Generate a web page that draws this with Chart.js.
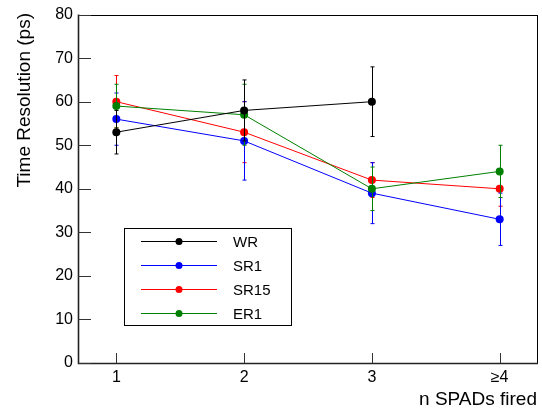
<!DOCTYPE html>
<html>
<head>
<meta charset="utf-8">
<script src="https://cdn.jsdelivr.net/npm/chart.js@4"></script>
<style>
html,body{margin:0;padding:0;background:#fff;}
canvas{display:block;}
</style>
</head>
<body>
<canvas id="c" width="542" height="409"></canvas>
<script>
// ---- data ----
const xValues = [1, 2, 3, 4];
const xTickLabels = ['1', '2', '3', '\u22654'];
const seriesNames = ['WR', 'SR1', 'SR15', 'ER1'];
const wrValues   = [53, 58, 60, null];
const wrErrors   = [5, 7, 8, null];
const sr1Values  = [56, 51, 39, 33];
const sr1Errors  = [6, 9, 7, 6];
const sr15Values = [60, 53, 42, 40];
const sr15Errors = [6, 7, 4, 4];
const er1Values  = [59, 57, 40, 44];
const er1Errors  = [5, 7, 5, 6];
const xTitle = 'n SPADs fired';
const yTitle = 'Time Resolution (ps)';

const colors = ['#000000', '#0000ff', '#ff0000', '#008000'];
const valuesList = [wrValues, sr1Values, sr15Values, er1Values];
const errorsList = [wrErrors, sr1Errors, sr15Errors, er1Errors];
const drawOrder = [0, 2, 3, 1];

const FONT = '"Liberation Sans", Arial, Helvetica, sans-serif';

const datasets = seriesNames.map((name, k) => ({
  label: name,
  data: xValues.map((x, i) => ({x: x, y: valuesList[k][i]})),
  errors: errorsList[k],
  borderColor: colors[k],
  backgroundColor: colors[k],
  pointBackgroundColor: colors[k],
  pointBorderColor: colors[k],
  borderWidth: 1,
  pointRadius: 4,
  pointHoverRadius: 4,
  pointBorderWidth: 0,
  tension: 0,
  spanGaps: false,
  order: drawOrder[k]
}));

const errorBarPlugin = {
  id: 'errorBars',
  beforeDatasetDraw(chart, args) {
    const ds = chart.data.datasets[args.index];
    const xs = chart.scales.x, ys = chart.scales.y;
    const ctx = chart.ctx;
    ctx.save();
    ctx.strokeStyle = ds.borderColor;
    ctx.lineWidth = 1;
    ds.data.forEach((p, i) => {
      const e = ds.errors[i];
      if (p.y == null || e == null) return;
      const px = Math.round(xs.getPixelForValue(p.x)) + 0.5;
      const top = ys.getPixelForValue(p.y + e);
      const bot = ys.getPixelForValue(p.y - e);
      ctx.beginPath();
      ctx.moveTo(px, top); ctx.lineTo(px, bot);
      ctx.moveTo(px - 2, top); ctx.lineTo(px + 2, top);
      ctx.moveTo(px - 2, bot); ctx.lineTo(px + 2, bot);
      ctx.stroke();
    });
    ctx.restore();
  }
};

const framePlugin = {
  id: 'frame',
  beforeDatasetsDraw(chart) {
    const ctx = chart.ctx, a = chart.chartArea;
    const xs = chart.scales.x, ys = chart.scales.y;
    ctx.save();
    ctx.strokeStyle = '#000';
    ctx.lineWidth = 1;
    ctx.strokeRect(Math.round(a.left) + 0.5, Math.round(a.top) + 0.5,
                   Math.round(a.right - a.left) - 1, Math.round(a.bottom - a.top));
    ctx.lineWidth = 1.6;
    ctx.strokeStyle = '#222';
    ctx.beginPath();
    ctx.moveTo(Math.round(a.left) + 0.5, a.top);
    ctx.lineTo(Math.round(a.left) + 0.5, a.bottom + 0.5);
    ctx.lineTo(a.right, a.bottom + 0.5);
    ctx.stroke();
    ctx.lineWidth = 1;
    ctx.strokeStyle = '#333';
    ctx.beginPath();
    ys.ticks.forEach(t => {
      const py = Math.round(ys.getPixelForValue(t.value)) + 0.5;
      ctx.moveTo(a.left, py); ctx.lineTo(a.left + 13, py);
    });
    xs.ticks.forEach(t => {
      const px = Math.round(xs.getPixelForValue(t.value)) + 0.5;
      ctx.moveTo(px, a.bottom); ctx.lineTo(px, a.bottom - 10);
    });
    ctx.stroke();
    ctx.restore();
  },
  afterDraw(chart) {
    const ctx = chart.ctx, a = chart.chartArea;
    ctx.save();
    ctx.fillStyle = '#000';
    ctx.font = '19px ' + FONT;
    ctx.textAlign = 'right';
    ctx.textBaseline = 'alphabetic';
    ctx.fillText(xTitle, a.right - 1, 405);
    ctx.translate(30, 13);
    ctx.rotate(-Math.PI / 2);
    ctx.textAlign = 'right';
    ctx.fillText(yTitle, 0, 0);
    ctx.restore();

    ctx.save();
    ctx.strokeStyle = '#000';
    ctx.lineWidth = 1;
    ctx.strokeRect(124.5, 228.5, 167, 97);
    ctx.font = '15px ' + FONT;
    ctx.textAlign = 'left';
    ctx.textBaseline = 'middle';
    chart.data.datasets.forEach((ds, k) => {
      const y = Math.round(240.5 + k * 24.2) + 0.5;
      ctx.strokeStyle = ds.borderColor;
      ctx.beginPath();
      ctx.moveTo(141, y); ctx.lineTo(217, y);
      ctx.stroke();
      ctx.fillStyle = ds.borderColor;
      ctx.beginPath();
      ctx.arc(179, y, 3.5, 0, Math.PI * 2);
      ctx.fill();
      ctx.fillStyle = '#000';
      ctx.fillText(ds.label, 233, y + 1);
    });
    ctx.restore();
  }
};

new Chart(document.getElementById('c'), {
  type: 'line',
  data: { datasets: datasets },
  options: {
    responsive: false,
    animation: false,
    devicePixelRatio: 1,
    events: [],
    layout: { padding: { left: 0, top: 14, right: 1, bottom: 0 } },
    plugins: { legend: { display: false }, tooltip: { enabled: false } },
    scales: {
      x: {
        type: 'linear',
        min: 0.7, max: 4.3,
        afterBuildTicks(scale) { scale.ticks = xValues.map(v => ({ value: v })); },
        afterFit(scale) { scale.height = 46; },
        grid: { display: false, drawTicks: false },
        border: { display: false },
        ticks: {
          padding: 5,
          color: '#000',
          font: { family: FONT, size: 16 },
          maxRotation: 0,
          autoSkip: false,
          callback: (v) => { const i = xValues.indexOf(v); return i >= 0 ? xTickLabels[i] : ''; }
        }
      },
      y: {
        type: 'linear',
        min: 0, max: 80,
        afterFit(scale) { scale.width = 78; },
        grid: { display: false, drawTicks: false },
        border: { display: false },
        ticks: {
          stepSize: 10,
          padding: 5,
          color: '#000',
          font: { family: FONT, size: 16 }
        }
      }
    }
  },
  plugins: [errorBarPlugin, framePlugin]
});
</script>
</body>
</html>
